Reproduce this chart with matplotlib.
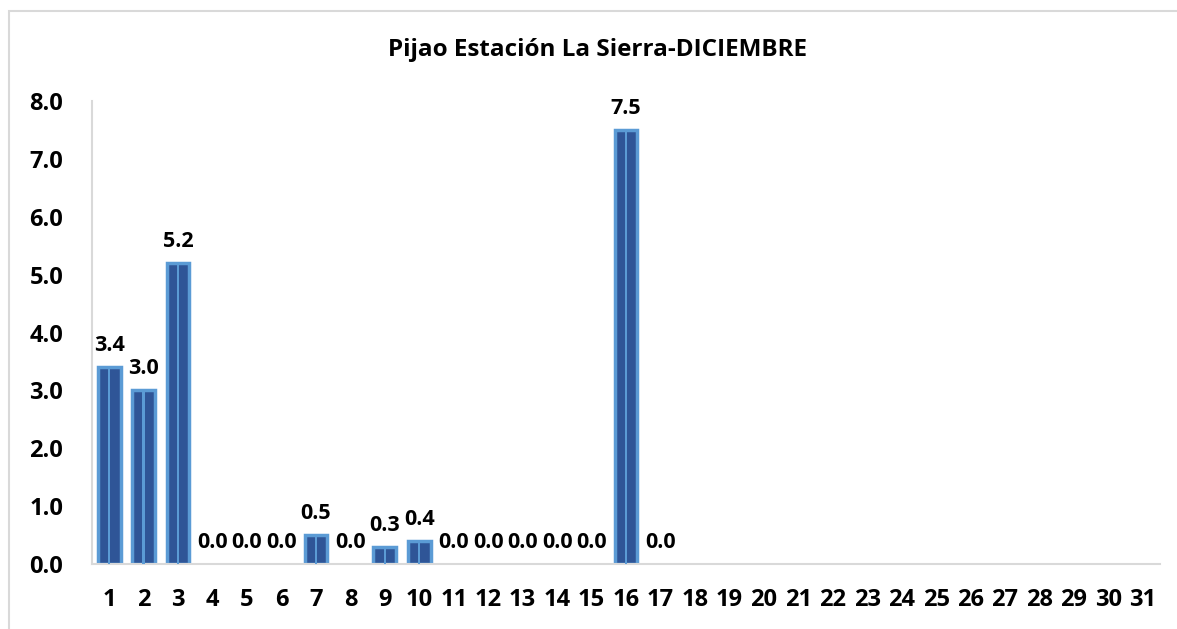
import matplotlib
matplotlib.use("Agg")
import matplotlib.pyplot as plt
from matplotlib.patches import Rectangle

days = list(range(1, 32))
label_days = list(range(1, 18))
values = [3.4, 3.0, 5.2, 0.0, 0.0, 0.0, 0.5, 0.0, 0.3, 0.4,
          0.0, 0.0, 0.0, 0.0, 0.0, 7.5, 0.0]
yticks = [0.0, 1.0, 2.0, 3.0, 4.0, 5.0, 6.0, 7.0, 8.0]
title = "Pijao Estación La Sierra-DICIEMBRE"

plt.rcParams['font.family'] = ['Open Sans', 'DejaVu Sans']

fig = plt.figure(figsize=(11.77, 6.29), dpi=100)
ax = fig.add_axes([92/1177, 1 - 564/629, (1160-92)/1177, (564-101)/629])

dark = "#2F5597"
light = "#5B9BD5"
lws = [2.5 if v > 0 else 0 for v in values]
ax.bar(label_days, values, width=0.66, color=dark, edgecolor=light, linewidth=lws, zorder=2)
ax.bar(label_days, values, width=0.07, color=light, linewidth=0, zorder=3)

for d, v in zip(label_days, values):
    ax.annotate(f"{v:.1f}", (d, v), xytext=(0, 8), textcoords="offset points",
                ha="center", va="bottom", fontsize=15.5, fontweight="bold", color="#000000")

ax.set_xlim(0.5, 31.5)
ax.set_ylim(0, 8)
ax.set_yticks(yticks)
ax.set_yticklabels([f"{t:.1f}" for t in yticks], fontsize=17, fontweight="bold")
ax.set_xticks(days)
ax.set_xticklabels([str(d) for d in days], fontsize=17, fontweight="bold")
ax.tick_params(axis="both", length=0)
ax.tick_params(axis="x", pad=17)
ax.tick_params(axis="y", pad=45)
for lab in ax.get_yticklabels():
    lab.set_horizontalalignment("left")
for s in ["top", "right"]:
    ax.spines[s].set_visible(False)
for s in ["left", "bottom"]:
    ax.spines[s].set_color("#D9D9D9")
    ax.spines[s].set_linewidth(1.5)

fig.text(597/1177, 1 - 50/629, title, ha="center", va="center", fontsize=17.5, fontweight="bold")

fig.patches.append(Rectangle((9/1177, -0.1), 1.2, 1 - 11/629 + 0.1, transform=fig.transFigure,
                             fill=False, edgecolor="#D9D9D9", linewidth=1.5))

fig.savefig("out.png", dpi=100)
